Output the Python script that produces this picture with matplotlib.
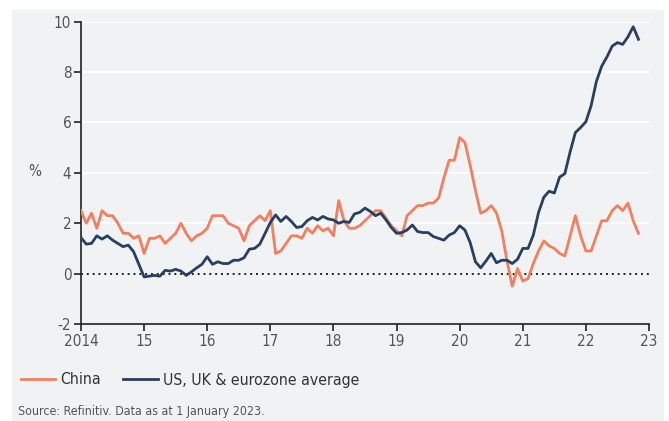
import numpy as np
from matplotlib import pyplot as plt
from matplotlib.patches import Rectangle

plt.rcParams['font.family'] = ['DejaVu Sans']
plt.rcParams['font.stretch'] = 'condensed'
plt.rcParams['axes.unicode_minus'] = False

# monthly, Jan 2014 .. Nov 2022
china = [2.5, 2.0, 2.4, 1.8, 2.5, 2.3, 2.3, 2.0, 1.6, 1.6, 1.4, 1.5,
         0.8, 1.4, 1.4, 1.5, 1.2, 1.4, 1.6, 2.0, 1.6, 1.3, 1.5, 1.6,
         1.8, 2.3, 2.3, 2.3, 2.0, 1.9, 1.8, 1.3, 1.9, 2.1, 2.3, 2.1,
         2.5, 0.8, 0.9, 1.2, 1.5, 1.5, 1.4, 1.8, 1.6, 1.9, 1.7, 1.8,
         1.5, 2.9, 2.1, 1.8, 1.8, 1.9, 2.1, 2.3, 2.5, 2.5, 2.2, 1.9,
         1.7, 1.5, 2.3, 2.5, 2.7, 2.7, 2.8, 2.8, 3.0, 3.8, 4.5, 4.5,
         5.4, 5.2, 4.3, 3.3, 2.4, 2.5, 2.7, 2.4, 1.7, 0.5, -0.5, 0.2,
         -0.3, -0.2, 0.4, 0.9, 1.3, 1.1, 1.0, 0.8, 0.7, 1.5, 2.3, 1.5,
         0.9, 0.9, 1.5, 2.1, 2.1, 2.5, 2.7, 2.5, 2.8, 2.1, 1.6]

western = [1.43, 1.17, 1.20, 1.50, 1.37, 1.50, 1.33, 1.20, 1.07, 1.13, 0.87, 0.37,
           -0.13, -0.10, -0.07, -0.10, 0.13, 0.10, 0.17, 0.10, -0.07, 0.07, 0.23, 0.37,
           0.67, 0.37, 0.47, 0.40, 0.40, 0.53, 0.53, 0.63, 0.97, 1.00, 1.17, 1.60,
           2.03, 2.33, 2.07, 2.27, 2.07, 1.83, 1.87, 2.10, 2.23, 2.13, 2.27, 2.17,
           2.13, 2.00, 2.07, 2.03, 2.37, 2.43, 2.60, 2.47, 2.30, 2.40, 2.13, 1.83,
           1.60, 1.63, 1.73, 1.93, 1.67, 1.63, 1.63, 1.47, 1.40, 1.33, 1.53, 1.63,
           1.90, 1.73, 1.23, 0.47, 0.23, 0.50, 0.80, 0.43, 0.53, 0.53, 0.40, 0.57,
           1.00, 1.00, 1.53, 2.43, 3.03, 3.27, 3.20, 3.83, 3.97, 4.83, 5.60, 5.80,
           6.03, 6.67, 7.63, 8.23, 8.60, 9.03, 9.17, 9.10, 9.40, 9.80, 9.30]

years = list(range(2014, 2024))
yearLabels = ['2014', '15', '16', '17', '18', '19', '20', '21', '22', '23']
yTicks = [-2, 0, 2, 4, 6, 8, 10]

orange = '#f47f5f'
navy = '#263f62'
bg = '#f1f2f4'
txt = '#555555'

fig = plt.figure(figsize=(6.69, 4.21), dpi=100)
fig.patches.append(Rectangle((12 / 669, 0), 651 / 669, 411 / 421,
                             transform=fig.transFigure, color=bg, zorder=-10))

ax = fig.add_axes([81 / 669, 1 - 324 / 421, 568 / 669, 302.3 / 421])
ax.set_facecolor(bg)

xAxis = 2014 + np.arange(len(china)) / 12.0
for y in [2, 4, 6, 8, 10]:
    ax.axhline(y, color='white', linewidth=1.5, zorder=1)
ax.axhline(0, color='#222222', linewidth=1.4, linestyle=(0, (1, 2)), zorder=2)

ax.plot(xAxis, china, color=orange, linewidth=2.0, label='China', zorder=3)
ax.plot(xAxis, western, color=navy, linewidth=2.0, label='US, UK & eurozone average', zorder=4)

ax.set_xlim(2014, 2023)
ax.set_ylim(-2, 10)
ax.set_xticks(years)
ax.set_xticklabels(yearLabels)
ax.set_yticks(yTicks)
ax.tick_params(axis='both', colors='#222222', labelcolor=txt, labelsize=11,
               length=5, width=1.2, direction='out')
ax.tick_params(axis='y', pad=2)
ax.tick_params(axis='x', pad=2)

for side in ['top', 'right']:
    ax.spines[side].set_visible(False)
for side in ['left', 'bottom']:
    ax.spines[side].set_color('#222222')
    ax.spines[side].set_linewidth(1.2)

fig.text(35 / 669, 1 - 172 / 421, '%', color=txt, fontsize=11, ha='center', va='center')

fig.legend(loc='center left', bbox_to_anchor=(20.5 / 669, 1 - 380 / 421), ncol=2,
           frameon=False, fontsize=11.3, handlelength=2.2, handletextpad=0.35,
           columnspacing=1.4, borderaxespad=0, borderpad=0, labelcolor='#333333')

fig.text(18 / 669, 1 - 412 / 421, 'Source: Refinitiv. Data as at 1 January 2023.',
         color=txt, fontsize=8.9, ha='left', va='center')

plt.savefig('out.png', dpi=100)
